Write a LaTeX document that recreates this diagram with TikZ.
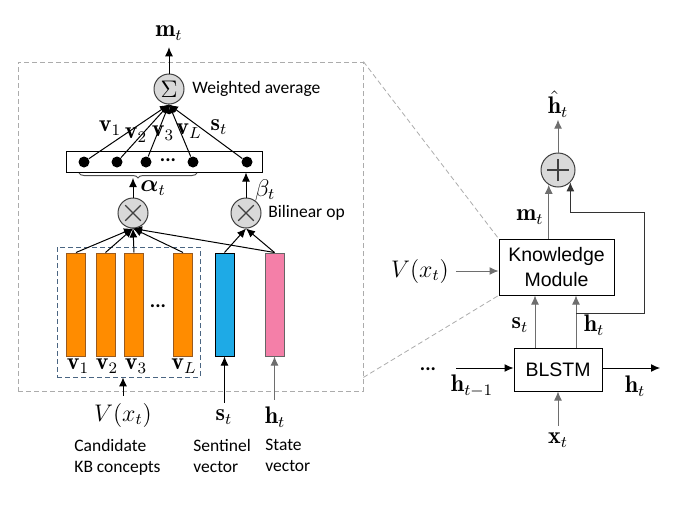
\documentclass[tikz,border=0pt]{standalone}
\usepackage{amsmath}
\usepackage{fontspec}
\newfontfamily\calib{Carlito}
\newfontfamily\arialf{Liberation Sans}
\usetikzlibrary{arrows.meta,decorations.pathreplacing}
\definecolor{opfill}{HTML}{D9D9D9}
\definecolor{kborange}{HTML}{FF8C00}
\definecolor{kbedge}{HTML}{9A5A1E}
\definecolor{sentblue}{HTML}{1EAAE6}
\definecolor{statepink}{HTML}{F47FA8}
\definecolor{linegray}{HTML}{6E6E6E}
\definecolor{boxblue}{HTML}{4A6582}
\tikzset{
  arr/.style={-{Latex[length=4.5pt,width=4pt]}, line width=0.5pt},
  garr/.style={arr, draw=linegray},
  opnode/.style={circle, draw=black!75, fill=opfill, minimum size=15pt, inner sep=0pt, line width=0.5pt},
  multop/.style={opnode, path picture={
      \draw[line width=0.6pt] ([shift={(45:5.5pt)}]path picture bounding box.center) -- ([shift={(225:5.5pt)}]path picture bounding box.center);
      \draw[line width=0.6pt] ([shift={(135:5.5pt)}]path picture bounding box.center) -- ([shift={(315:5.5pt)}]path picture bounding box.center);}},
  plusop/.style={opnode, minimum size=17pt, path picture={
      \draw[line width=0.6pt] ([xshift=-5.5pt]path picture bounding box.center) -- ([xshift=5.5pt]path picture bounding box.center);
      \draw[line width=0.6pt] ([yshift=-5.5pt]path picture bounding box.center) -- ([yshift=5.5pt]path picture bounding box.center);}},
  bar/.style={draw, line width=0.5pt, minimum width=9.5pt, minimum height=51.5pt, inner sep=0pt},
  kbbar/.style={bar, fill=kborange, draw=kbedge},
  dotnode/.style={circle, fill=black, minimum size=5.5pt, inner sep=0pt},
  modbox/.style={draw, line width=0.5pt, align=center, font=\arialf\fontsize{9.75}{12.5}\selectfont},
  caption/.style={align=left, inner sep=0pt, font=\calib\fontsize{8.75}{10.5}\selectfont},
  optext/.style={anchor=west, inner sep=0pt, font=\calib\fontsize{8.75}{10.5}\selectfont},
  zoomline/.style={draw=gray!65, dashed, dash pattern=on 2.5pt off 1.5pt, line width=0.4pt},
}
\begin{document}
\begin{tikzpicture}[x=0.5pt, y=-0.5pt, every node/.style={font=\large}]
  \useasboundingbox (0,0) rectangle (673,514);
  % zoomed module
  \node[zoomline, minimum width=172.5pt, minimum height=164.5pt] (zoom) at (190.5,226.5) {};
  \node[draw=boxblue, dashed, dash pattern=on 2.5pt off 1.5pt, line width=0.4pt,
        minimum width=71.5pt, minimum height=65pt] (kbbox) at (128.5,312) {};
  % concept vectors
  \foreach \n/\x in {1/76,2/105.5,3/134,L/183}
    \node[kbbar] (b\n) at (\x,304.5) {};
  \node[bar, fill=sentblue] (bs) at (224.5,304.5) {};
  \node[bar, fill=statepink, draw=black!60] (bh) at (274.5,304.5) {};
  \node[font=\calib\bfseries] at (158,306) {...};
  \foreach \n/\x in {1/78,2/107,3/136,L/184}
    \node at (\x,366) {$\mathbf{v}_{\n}$};
  % bilinear ops
  \node[multop] (mul1) at (133,213) {};
  \node[multop] (mul2) at (246,213) {};
  \node[optext] at (268,213) {Bilinear op};
  \foreach \n in {1,2,3,L,h}
    \draw[arr] (b\n.north) -- (mul1.south);
  \draw[arr] (bs.north) -- (mul2.south);
  \draw[arr] (bh.north) -- (mul2.south);
  % weights
  \node[draw, line width=0.5pt, minimum width=98pt, minimum height=10.5pt, inner sep=0pt] (vecbox) at (164,161.5) {};
  \foreach \n/\x in {1/84,2/117,3/146,L/193,s/247}
    \node[dotnode] (d\n) at (\x,162) {};
  \node[font=\calib\bfseries] at (168,160) {...};
  \draw[decorate, decoration={brace, mirror, amplitude=2.5pt}, draw=black!70, line width=0.5pt] (79,173) -- (197,173);
  \coordinate (btip) at (133,178);
  \draw[arr] (mul1.north) -- (btip);
  \draw[arr] (mul2.north) -- (mul2.north |- vecbox.south);
  \node at (153,188) {$\boldsymbol{\alpha}_t$};
  \node at (265,190) {$\beta_t$};
  % weighted average
  \node[opnode] (sum) at (169,89) {$\Sigma$};
  \node[optext] at (192,89) {Weighted average};
  \foreach \n in {1,2,3,L,s}
    \draw[arr] (d\n) -- (sum.south);
  \node at (110,128) {$\mathbf{v}_1$};
  \node at (136,135) {$\mathbf{v}_2$};
  \node at (163,133) {$\mathbf{v}_3$};
  \node at (189,131) {$\mathbf{v}_L$};
  \node at (219,127) {$\mathbf{s}_t$};
  \node (mt) at (169,33) {$\mathbf{m}_t$};
  \draw[arr] (sum.north) -- (mt.south);
  % inputs
  \node (vxl) at (123,415) {$V(x_t)$};
  \draw[arr] (vxl.north) -- (vxl.north |- kbbox.south);
  \node (stl) at (224,417) {$\mathbf{s}_t$};
  \draw[arr] (stl.north -| bs.south) -- (bs.south);
  \node (htl) at (275,417) {$\mathbf{h}_t$};
  \draw[garr] (htl.north -| bh.south) -- (bh.south);
  \node[caption, anchor=north west] at (74,439) {Candidate\\KB concepts};
  \node[caption, anchor=north west] at (193,439) {Sentinel\\vector};
  \node[caption, anchor=north west] at (265,439) {State\\vector};
  % full cell
  \node[modbox, minimum width=57.5pt, minimum height=28pt] (km) at (556.5,267) {Knowledge\\Module};
  \node[modbox, minimum width=44pt, minimum height=21.5pt] (blstm) at (558,369.5) {BLSTM};
  \node[plusop] (plus) at (558,170) {};
  \node[inner sep=1pt] (hhat) at (558,104) {$\hat{\mathbf{h}}_t$};
  \draw[garr] (plus.north) -- (hhat.south);
  \draw[garr] (km.north -| plus.-122) -- (plus.-122);
  \node at (530,217) {$\mathbf{m}_t$};
  \draw[garr] ([xshift=-11.5pt]blstm.north) -- ([xshift=-11.5pt]blstm.north |- km.south);
  \draw[garr] ([xshift=9pt]blstm.north) -- ([xshift=9pt]blstm.north |- km.south);
  \coordinate (hsplit) at (576,313);
  \draw[arr, draw=black!80] (hsplit) -| (644,212) -| (plus.-45);
  \node at (520,325) {$\mathbf{s}_t$};
  \node at (594,325) {$\mathbf{h}_t$};
  \node (vxr) at (420,271) {$V(x_t)$};
  \draw[garr] (vxr.east) -- (vxr.east -| km.west);
  \node[font=\calib\bfseries] at (428,369) {...};
  \coordinate (hin) at (456,368);
  \coordinate (hout) at (660,368);
  \draw[arr] (hin) -- (hin -| blstm.west);
  \draw[arr] (hin -| blstm.east) -- (hout);
  \node at (472,386) {$\mathbf{h}_{t-1}$};
  \node at (635,386) {$\mathbf{h}_t$};
  \node (xt) at (558,440) {$\mathbf{x}_t$};
  \draw[garr] (xt.north) -- (blstm.south);
  % zoom lines
  \draw[zoomline] (zoom.north east) -- (km.north west);
  \draw[zoomline] ([yshift=7pt]zoom.south east) -- (km.south west);
\end{tikzpicture}
\end{document}
